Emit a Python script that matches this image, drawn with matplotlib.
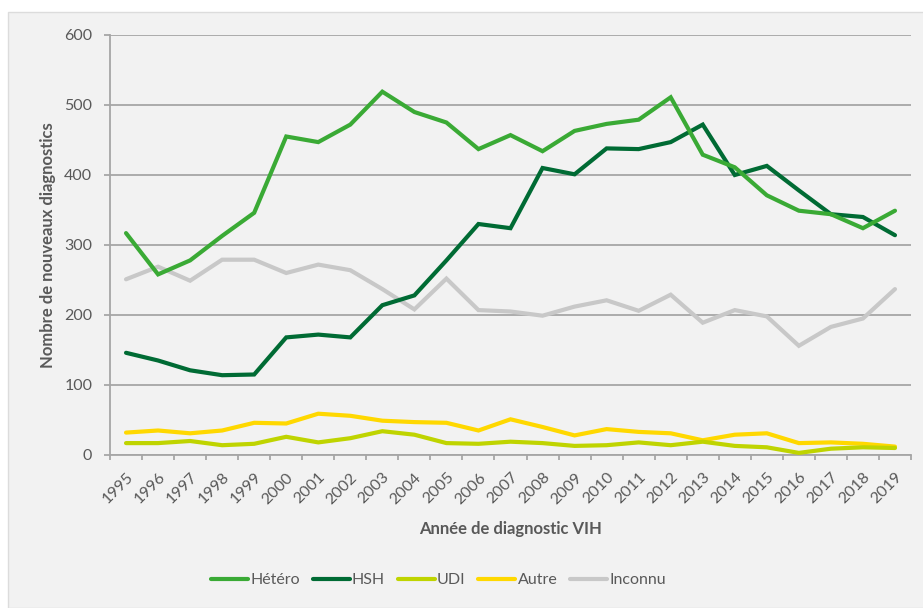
import matplotlib.pyplot as plt
from matplotlib.patches import Rectangle
from matplotlib.transforms import ScaledTranslation

years = list(range(1995, 2020))

hetero = [317, 258, 278, 313, 346, 455, 447, 472, 519, 490, 475, 437, 457, 434,
          463, 473, 479, 511, 429, 411, 371, 349, 344, 324, 349]
hsh = [146, 135, 121, 114, 115, 168, 172, 168, 214, 228, 278, 330, 324, 410,
       401, 438, 437, 447, 472, 400, 413, 378, 344, 340, 314]
udi = [17, 17, 20, 14, 16, 26, 18, 24, 34, 29, 17, 16, 19, 17,
       13, 14, 18, 14, 19, 13, 11, 3, 9, 11, 10]
autre = [32, 35, 31, 35, 46, 45, 59, 56, 49, 47, 46, 35, 51, 40,
         28, 37, 33, 31, 21, 29, 31, 17, 18, 16, 12]
inconnu = [251, 269, 249, 279, 279, 260, 272, 264, 237, 208, 252, 207, 205, 199,
           212, 221, 206, 229, 189, 207, 198, 156, 183, 195, 237]

series = [
    ("Hétéro", hetero, "#3aaa35"),
    ("HSH", hsh, "#006b34"),
    ("UDI", udi, "#bfd400"),
    ("Autre", autre, "#ffd800"),
    ("Inconnu", inconnu, "#c8c8c8"),
]

plt.rcParams['font.family'] = ['Lato', 'DejaVu Sans']
txt = "#595959"

fig = plt.figure(figsize=(9.23, 6.08), dpi=100, facecolor="white")
fig.patches.append(Rectangle((8 / 923, 0), 1, 1 - 12 / 608, transform=fig.transFigure,
                             facecolor="#f2f2f2", edgecolor="#dcdcdc", lw=1, zorder=-1))

ax = fig.add_axes([110 / 923, 1 - 455 / 608, 801 / 923, 420 / 608])
ax.set_facecolor("#f2f2f2")

x = list(range(len(years)))
# gris en dessous, vert clair au dessus
for i in [4, 3, 2, 1, 0]:
    name, vals, col = series[i]
    ax.plot(x, vals, color=col, lw=3.0, solid_capstyle="round", solid_joinstyle="miter",
            zorder=3 + (5 - i))

ax.set_xlim(-0.5, len(years) - 0.5)
ax.set_ylim(0, 600)
ax.set_yticks(range(0, 601, 100))
ax.yaxis.grid(True, color="#a6a6a6", lw=1.3)
ax.set_axisbelow(True)

ax.set_xticks(x)
ax.set_xticklabels([str(y) for y in years], rotation=45, ha="right", rotation_mode="anchor")
shift = ScaledTranslation(3 / 100, 0, fig.dpi_scale_trans)
for lab in ax.get_xticklabels():
    lab.set_transform(lab.get_transform() + shift)
ax.set_xticks([v - 0.5 for v in range(len(years) + 1)], minor=True)
ax.tick_params(axis="x", which="major", length=0, pad=11, labelsize=11.5, labelcolor=txt)
ax.tick_params(axis="x", which="minor", length=3.8, color="#a6a6a6", width=1.3)
ax.tick_params(axis="y", length=4.3, color="#a6a6a6", width=1.3, labelsize=11.5,
               labelcolor=txt, pad=8.5)

for s in ["top", "right"]:
    ax.spines[s].set_visible(False)
for s in ["left", "bottom"]:
    ax.spines[s].set_color("#a6a6a6")
    ax.spines[s].set_linewidth(1.3)

ax.set_ylabel("Nombre de nouveaux diagnostics", fontsize=12, fontweight="bold",
              color=txt, labelpad=6)
ax.set_xlabel("Année de diagnostic VIH", fontsize=12, fontweight="bold",
              color=txt, labelpad=10)

handles = [plt.Line2D([], [], color=c, lw=3.0, solid_capstyle="round") for _, _, c in series]
fig.legend(handles, [n for n, _, _ in series], loc="center",
           bbox_to_anchor=(438.5 / 923, 1 - 580 / 608),
           ncol=5, frameon=False, fontsize=11.5, labelcolor=txt, handlelength=2.3,
           handletextpad=0.15, columnspacing=0.8)

fig.savefig("out.png", dpi=100, facecolor=fig.get_facecolor())
